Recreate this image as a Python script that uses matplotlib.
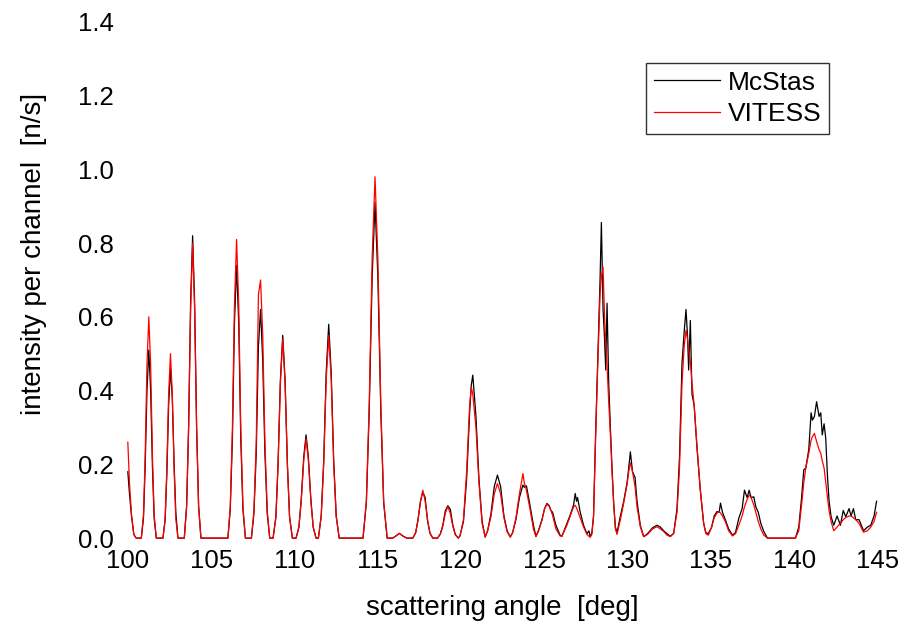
import matplotlib
matplotlib.use("Agg")
import matplotlib.pyplot as plt

plt.rcParams['font.family'] = ['Liberation Sans', 'DejaVu Sans']

# scattering angle [deg], shared by both curves
angle = [
    100.00, 100.10, 100.22, 100.36, 100.50,
    100.81, 100.94, 101.04, 101.15, 101.26, 101.37, 101.48, 101.58, 101.71,
    102.11, 102.24, 102.34, 102.45, 102.56, 102.67, 102.78, 102.88, 103.01,
    103.39, 103.53, 103.65, 103.77, 103.89, 104.01, 104.13, 104.25, 104.39,
    106.01, 106.15, 106.28, 106.40, 106.53, 106.66, 106.78, 106.91, 107.06,
    107.42, 107.57, 107.71, 107.84, 107.97, 108.10, 108.23, 108.37, 108.52,
    108.72, 108.89, 109.02, 109.16, 109.30, 109.44, 109.58, 109.71, 109.88,
    110.10, 110.27, 110.41, 110.56, 110.70, 110.84, 110.99, 111.13, 111.30,
    111.44, 111.61, 111.76, 111.91, 112.06, 112.21, 112.36, 112.51, 112.69,
    114.12, 114.32, 114.49, 114.67, 114.84, 115.01, 115.19, 115.36, 115.57,
    115.90, 116.10, 116.30, 116.50, 116.75,
    117.11, 117.28, 117.42, 117.57, 117.71, 117.85, 118.00, 118.14, 118.31,
    118.59, 118.76, 118.91, 119.06, 119.21, 119.36, 119.51, 119.66, 119.84,
    119.94, 120.15, 120.34, 120.52, 120.62, 120.71, 120.90, 121.08, 121.27,
    121.45, 121.60, 121.80, 122.00, 122.19, 122.38, 122.58, 122.77, 122.96,
    123.10, 123.30, 123.51, 123.72, 123.80, 123.93, 124.14, 124.35, 124.50,
    124.65, 124.86, 125.02, 125.16, 125.30, 125.40, 125.50, 125.70, 125.95,
    126.06, 126.36, 126.56, 126.76, 126.86, 126.94, 127.00, 127.16, 127.36,
    127.56, 127.68, 127.76, 127.86,
    127.96, 128.07, 128.17, 128.27, 128.35, 128.43, 128.53, 128.62, 128.69,
    128.77, 128.87, 128.97, 129.07, 129.17, 129.27, 129.37,
    129.57, 129.77, 129.97, 130.07, 130.17, 130.30, 130.45, 130.57, 130.77, 130.97,
    131.20, 131.50, 131.77, 131.97, 132.17, 132.37, 132.57,
    132.77, 132.97, 133.12, 133.27, 133.40, 133.51, 133.60, 133.67, 133.77,
    133.87, 134.00, 134.17, 134.37, 134.57, 134.70,
    134.85, 135.05, 135.20, 135.37, 135.50, 135.58, 135.70, 135.87, 136.07, 136.30,
    136.48, 136.68, 136.88, 137.02, 137.18, 137.30, 137.42, 137.58, 137.70,
    137.85, 138.00, 138.18, 138.40,
    140.08, 140.28, 140.45, 140.58, 140.70, 140.88, 141.02, 141.10, 141.22, 141.35,
    141.50, 141.60, 141.69, 141.80, 141.90, 142.00, 142.10, 142.22, 142.38, 142.58,
    142.78, 142.95, 143.10, 143.30, 143.42, 143.56, 143.70, 143.90, 144.17, 144.40,
    144.60, 144.80, 144.95,
]

# intensity per channel [n/s]
mcstas = [
    0.18, 0.12, 0.06, 0.01, 0.0,
    0.0, 0.054, 0.19, 0.40, 0.51, 0.40, 0.19, 0.054, 0.0,
    0.0, 0.049, 0.17, 0.36, 0.46, 0.38, 0.20, 0.07, 0.0,
    0.0, 0.087, 0.30, 0.64, 0.82, 0.64, 0.30, 0.087, 0.0,
    0.0, 0.078, 0.27, 0.58, 0.74, 0.58, 0.27, 0.078, 0.0,
    0.0, 0.066, 0.23, 0.52, 0.62, 0.48, 0.23, 0.066, 0.0,
    0.0, 0.058, 0.20, 0.43, 0.55, 0.43, 0.20, 0.058, 0.0,
    0.0, 0.030, 0.104, 0.22, 0.28, 0.22, 0.104, 0.030, 0.0,
    0.0, 0.061, 0.21, 0.45, 0.58, 0.45, 0.21, 0.061, 0.0,
    0.0, 0.096, 0.34, 0.71, 0.91, 0.71, 0.34, 0.096, 0.0,
    0.0, 0.006, 0.013, 0.006, 0.0,
    0.0, 0.015, 0.05, 0.10, 0.125, 0.11, 0.045, 0.013, 0.0,
    0.0, 0.011, 0.035, 0.074, 0.088, 0.078, 0.036, 0.010, 0.0,
    0.006, 0.045, 0.16, 0.34, 0.415, 0.442, 0.33, 0.16, 0.045,
    0.003, 0.02, 0.066, 0.14, 0.171, 0.14, 0.06, 0.02, 0.003,
    0.015, 0.05, 0.11, 0.144, 0.138, 0.142, 0.09, 0.035, 0.005,
    0.02, 0.05, 0.08, 0.094, 0.088, 0.075, 0.07, 0.035, 0.008,
    0.005, 0.04, 0.063, 0.09, 0.121, 0.10, 0.11, 0.07, 0.035,
    0.012, 0.02, 0.003, 0.015,
    0.06, 0.26, 0.42, 0.57, 0.70, 0.856, 0.62, 0.54, 0.456,
    0.637, 0.42, 0.30, 0.19, 0.094, 0.03, 0.015,
    0.06, 0.10, 0.15, 0.19, 0.234, 0.18, 0.165, 0.10, 0.034, 0.004,
    0.012, 0.028, 0.035, 0.03, 0.02, 0.012, 0.005,
    0.013, 0.08, 0.22, 0.475, 0.56, 0.62, 0.55, 0.456, 0.59,
    0.39, 0.36, 0.244, 0.13, 0.04, 0.015,
    0.012, 0.03, 0.06, 0.072, 0.07, 0.095, 0.07, 0.05, 0.025, 0.008,
    0.015, 0.054, 0.08, 0.13, 0.11, 0.13, 0.11, 0.112, 0.085,
    0.07, 0.04, 0.018, 0.0,
    0.0, 0.03, 0.11, 0.185, 0.19, 0.24, 0.34, 0.32, 0.33, 0.37,
    0.33, 0.34, 0.28, 0.31, 0.27, 0.17, 0.10, 0.058, 0.035, 0.06,
    0.035, 0.075, 0.058, 0.08, 0.06, 0.08, 0.05, 0.05, 0.02, 0.03,
    0.035, 0.06, 0.10,
]

vitess = [
    0.26, 0.15, 0.065, 0.01, 0.0,
    0.0, 0.064, 0.22, 0.47, 0.60, 0.47, 0.22, 0.064, 0.0,
    0.0, 0.053, 0.185, 0.39, 0.50, 0.39, 0.185, 0.053, 0.0,
    0.0, 0.085, 0.30, 0.62, 0.80, 0.62, 0.30, 0.085, 0.0,
    0.0, 0.086, 0.30, 0.63, 0.81, 0.63, 0.30, 0.086, 0.0,
    0.0, 0.074, 0.26, 0.66, 0.70, 0.55, 0.26, 0.074, 0.0,
    0.0, 0.057, 0.20, 0.42, 0.54, 0.42, 0.20, 0.057, 0.0,
    0.0, 0.029, 0.10, 0.21, 0.27, 0.21, 0.10, 0.029, 0.0,
    0.0, 0.058, 0.20, 0.43, 0.55, 0.43, 0.20, 0.058, 0.0,
    0.0, 0.10, 0.36, 0.76, 0.98, 0.76, 0.36, 0.10, 0.0,
    0.0, 0.006, 0.013, 0.006, 0.0,
    0.0, 0.014, 0.048, 0.10, 0.13, 0.10, 0.048, 0.014, 0.0,
    0.0, 0.011, 0.032, 0.067, 0.086, 0.067, 0.032, 0.009, 0.0,
    0.006, 0.05, 0.18, 0.36, 0.41, 0.39, 0.30, 0.15, 0.04,
    0.003, 0.02, 0.058, 0.12, 0.148, 0.12, 0.055, 0.017, 0.003,
    0.014, 0.055, 0.12, 0.175, 0.15, 0.13, 0.08, 0.025, 0.004,
    0.018, 0.048, 0.08, 0.092, 0.086, 0.075, 0.062, 0.025, 0.006,
    0.005, 0.035, 0.06, 0.085, 0.089, 0.082, 0.075, 0.055, 0.03,
    0.01, 0.005, 0.003, 0.01,
    0.06, 0.25, 0.41, 0.55, 0.66, 0.71, 0.735, 0.60, 0.53,
    0.47, 0.37, 0.28, 0.18, 0.09, 0.025, 0.01,
    0.05, 0.095, 0.145, 0.18, 0.204, 0.18, 0.14, 0.085, 0.03, 0.004,
    0.01, 0.025, 0.031, 0.025, 0.018, 0.008, 0.004,
    0.013, 0.07, 0.19, 0.42, 0.52, 0.564, 0.54, 0.51, 0.48,
    0.42, 0.36, 0.25, 0.13, 0.04, 0.012,
    0.008, 0.03, 0.055, 0.068, 0.072, 0.068, 0.06, 0.045, 0.02, 0.006,
    0.012, 0.035, 0.06, 0.085, 0.105, 0.117, 0.11, 0.09, 0.07,
    0.045, 0.025, 0.008, 0.0,
    0.0, 0.02, 0.09, 0.15, 0.19, 0.23, 0.265, 0.275, 0.284, 0.262,
    0.24, 0.23, 0.21, 0.19, 0.15, 0.112, 0.075, 0.045, 0.02, 0.03,
    0.04, 0.05, 0.056, 0.06, 0.06, 0.055, 0.05, 0.04, 0.016, 0.02,
    0.03, 0.045, 0.07,
]

x_ticks = [100, 105, 110, 115, 120, 125, 130, 135, 140, 145]
y_ticks = [0.0, 0.2, 0.4, 0.6, 0.8, 1.0, 1.2, 1.4]

fig = plt.figure(figsize=(9.13, 6.25), dpi=100)
ax = fig.add_axes([0.140, 0.139, 0.821, 0.826])

ax.plot(angle, mcstas, color='black', lw=0.9, label='McStas', clip_on=False)
ax.plot(angle, vitess, color='red', lw=0.9, label='VITESS', clip_on=False)

ax.set_xlim(100, 145)
ax.set_ylim(0, 1.4)
ax.set_xticks(x_ticks)
ax.set_yticks(y_ticks)
ax.set_yticklabels([f'{v:.1f}' for v in y_ticks])
ax.tick_params(length=0, labelsize=18.5)
ax.tick_params(axis='x', pad=8)
ax.tick_params(axis='y', pad=10)
for s in ax.spines.values():
    s.set_visible(False)

ax.set_xlabel('scattering angle  [deg]', fontsize=20, labelpad=16)
ax.set_ylabel('intensity per channel  [n/s]', fontsize=20)
ax.yaxis.set_label_coords(-0.108, 0.55)

leg = ax.legend(loc='upper right', bbox_to_anchor=(0.936, 0.921), fontsize=19,
                frameon=True, fancybox=False, borderaxespad=0,
                handlelength=2.5, handletextpad=0.3, borderpad=0.3,
                labelspacing=0.3)
leg.get_frame().set_edgecolor('black')
leg.get_frame().set_linewidth(1.0)

fig.savefig('out.png', dpi=100)
